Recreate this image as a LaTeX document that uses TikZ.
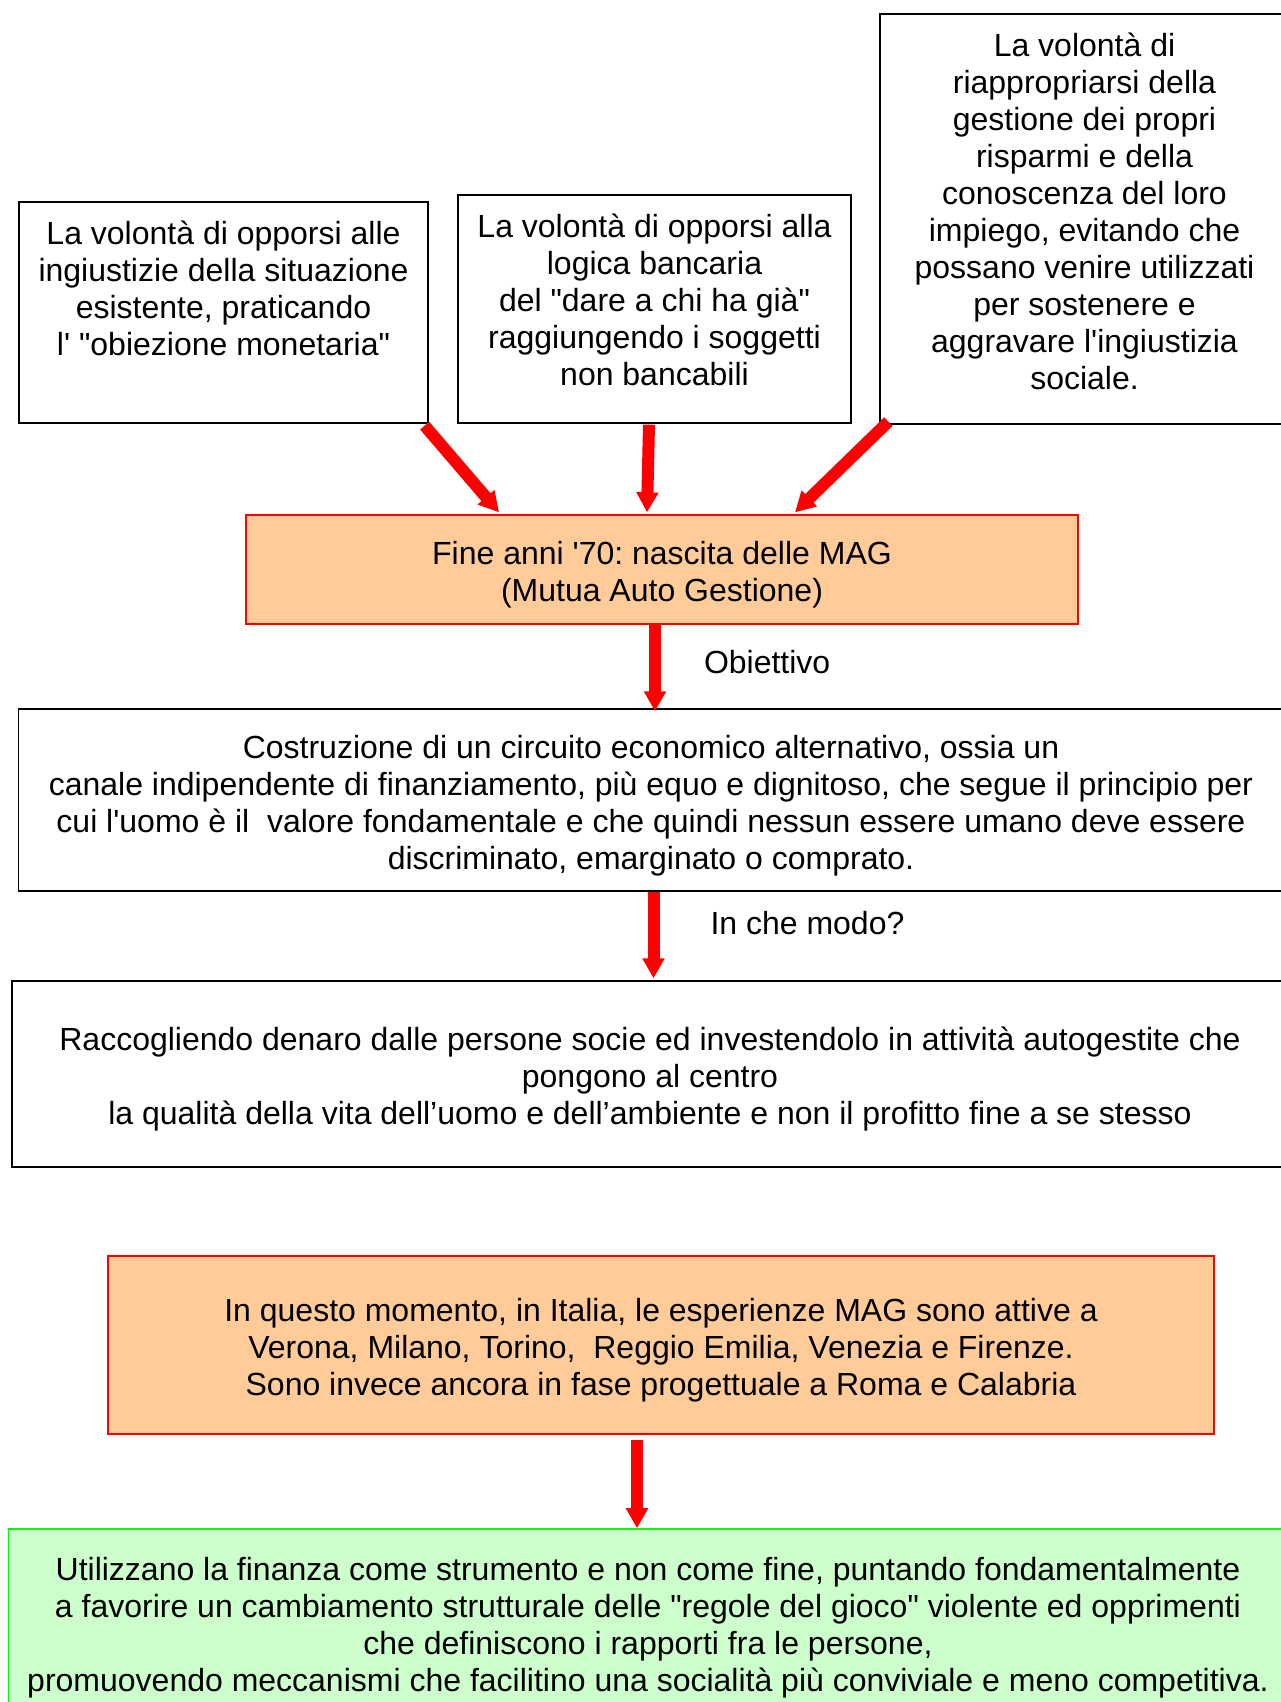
\documentclass[tikz,border=0pt]{standalone}
\usepackage{fontspec}
\setmainfont{Liberation Sans}[Ligatures=TeXOff]
\usetikzlibrary{arrows.meta}
\definecolor{magorange}{HTML}{FFCC99}
\definecolor{maggreen}{HTML}{CCFFCC}
\definecolor{magline}{HTML}{00FF00}
\frenchspacing
\begin{document}
\begin{tikzpicture}[x=1pt,y=-1pt,
    box/.style={draw=black,line width=1.3pt,align=center,inner sep=0pt,font=\fontsize{32}{37}\selectfont},
    magbox/.style={box,draw=red,fill=magorange},
    greenbox/.style={box,draw=magline,fill=maggreen,line width=1.6pt},
    redarrow/.style={draw=red,line width=12pt,-{Triangle[length=20pt,width=21pt]}},
    lab/.style={inner sep=0pt,font=\fontsize{32}{37}\selectfont}]
  \useasboundingbox (0,0) rectangle (1281,1702);
  \clip (0,0) rectangle (1281,1702);
  % the three reasons
  \node[box,minimum width=409pt,minimum height=221pt,text depth=49pt] (srcA) at (223.5,312.5)
    {La volontà di opporsi alle\\ingiustizie della situazione\\esistente, praticando\\l' "obiezione monetaria"};
  \node[box,minimum width=393pt,minimum height=228pt,text depth=18pt] (srcB) at (654.5,309)
    {La volontà di opporsi alla\\logica bancaria\\del "dare a chi ha già"\\raggiungendo i soggetti\\non bancabili};
  \node[box,minimum width=409pt,minimum height=410pt,text depth=16pt] (srcC) at (1084.5,219)
    {La volontà di\\riappropriarsi della\\gestione dei propri\\risparmi e della\\conoscenza del loro\\impiego, evitando che\\possano venire utilizzati\\per sostenere e\\aggravare l'ingiustizia\\sociale.};
  % birth of the MAG
  \node[magbox,minimum width=832pt,minimum height=109pt,text height=71pt] (mag) at (662,569.5)
    {Fine anni '70: nascita delle MAG\\(Mutua Auto Gestione)};
  \node[box,minimum width=1265pt,minimum height=182pt,text height=145pt] (goal) at (651,800)
    {Costruzione di un circuito economico alternativo, ossia un\\canale indipendente di finanziamento, più equo e dignitoso, che segue il principio per\\cui l'uomo è il~ valore fondamentale e che quindi nessun essere umano deve essere\\discriminato, emarginato o comprato.};
  \node[box,minimum width=1276pt,minimum height=186pt,text height=108pt] (way) at (650,1074)
    {Raccogliendo denaro dalle persone socie ed investendolo in attività autogestite che\\pongono al centro\\la qualità della vita dell’uomo e dell’ambiente e non il profitto fine a se stesso};
  \node[magbox,minimum width=1106pt,minimum height=178pt,text height=108pt] (now) at (661,1345)
    {In questo momento, in Italia, le esperienze MAG sono attive a\\Verona, Milano, Torino,~ Reggio Emilia, Venezia e Firenze.\\Sono invece ancora in fase progettuale a Roma e Calabria};
  \node[greenbox,minimum width=1279pt,minimum height=186pt,text height=145pt] (aim) at (648,1622)
    {Utilizzano la finanza come strumento e non come fine, puntando fondamentalmente\\a favorire un cambiamento strutturale delle "regole del gioco" violente ed opprimenti\\che definiscono i rapporti fra le persone,\\promuovendo meccanismi che facilitino una socialità più conviviale e meno competitiva.};
  % arrows
  \draw[redarrow] ([xshift=-4pt,yshift=-2pt]srcA.south east) -- ([xshift=-163pt,yshift=2pt]mag.north);
  \draw[redarrow] ([xshift=-5.5pt,yshift=-1pt]srcB.south) -- ([xshift=-15pt,yshift=2pt]mag.north);
  \draw[redarrow] ([xshift=9pt,yshift=3pt]srcC.south west) -- ([xshift=133pt,yshift=2pt]mag.north);
  \draw[redarrow] ([xshift=-7pt]mag.south) -- ([xshift=4pt,yshift=-3pt]goal.north)
    node[lab,pos=0.43,right=43pt] {Obiettivo};
  \draw[redarrow] ([xshift=2.5pt]goal.south) -- ([xshift=3.5pt,yshift=2pt]way.north)
    node[lab,pos=0.36,right=51pt] {In che modo?};
  \draw[redarrow] ([xshift=-24pt,yshift=-5pt]now.south) -- ([xshift=-11pt]aim.north);
\end{tikzpicture}
\end{document}
